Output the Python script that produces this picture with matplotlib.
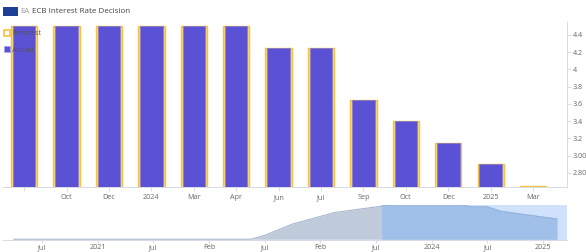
import matplotlib
matplotlib.use("Agg")
import matplotlib.pyplot as plt
from matplotlib.patches import Rectangle
from matplotlib.lines import Line2D
import numpy as np

# ---- data ----
categories = ["", "Oct", "Dec", "2024", "Mar", "Apr", "Jun", "Jul", "Sep", "Oct", "Dec", "2025", "Mar"]
actual = [4.50, 4.50, 4.50, 4.50, 4.50, 4.50, 4.25, 4.25, 3.65, 3.40, 3.15, 2.90, None]
forecast = [4.50, 4.50, 4.50, 4.50, 4.50, 4.50, 4.25, 4.25, 3.65, 3.40, 3.15, 2.90, 2.65]
y_ticks = [2.80, 3.00, 3.2, 3.4, 3.6, 3.8, 4.0, 4.2, 4.4]
y_tick_labels = ["2.80", "3.00", "3.2", "3.4", "3.6", "3.8", "4", "4.2", "4.4"]

# navigator: refinancing rate at each ECB meeting (Apr 2020 .. Mar 2025)
nav_values = [0, 0, 0, 0, 0, 0, 0, 0, 0, 0, 0, 0, 0, 0, 0, 0, 0, 0,
              0.50, 1.25, 2.00, 2.50, 3.00, 3.50, 3.75, 4.00, 4.25,
              4.50, 4.50, 4.50, 4.50, 4.50, 4.50, 4.25, 4.25, 3.65, 3.40, 3.15, 2.90, 2.65]
nav_tick_idx = [2, 6, 10, 14, 18, 22, 26, 30, 34, 38]
nav_tick_labels = ["Jul", "2021", "Jul", "Feb", "Jul", "Feb", "Jul", "2024", "Jul", "2025"]
nav_sel_start = 26.4

W, H = 586, 252
fig = plt.figure(figsize=(W / 100, H / 100), dpi=100)
fig.patch.set_facecolor("white")

def fx(px):
    return px / W

def fy(py):
    return 1 - py / H

BAR = "#5b51d4"
GOLD = "#f5c242"
AXC = "#d0d6e2"
TXT = "#666666"
FONT = "Open Sans"
FS = 5.2

# ---- main chart ----
ax = fig.add_axes([fx(3), fy(187.3), fx(567 - 3), (187.3 - 22) / H])
x = np.arange(len(categories))
ax.bar(x, forecast, width=0.62, color="#fbd775", edgecolor=GOLD, linewidth=1.0, zorder=2)
act_x = [i for i, v in enumerate(actual) if v is not None]
act_v = [v for v in actual if v is not None]
ax.bar(act_x, act_v, width=0.53, color=BAR, edgecolor="#7d75e0", linewidth=0.4, zorder=3)
ax.set_xlim(-0.5, 12.8)
ax.set_ylim(2.632, 4.55)
ax.set_xticks(x)
ax.set_xticklabels(categories, fontsize=FS, color=TXT, family=FONT)
ax.yaxis.tick_right()
ax.set_yticks(y_ticks)
ax.set_yticklabels(y_tick_labels, fontsize=FS, color=TXT, family=FONT)
ax.tick_params(axis="x", length=3, width=0.6, color=AXC, pad=2)
ax.tick_params(axis="y", length=3, width=0.6, color=AXC, pad=1)
for s in ["top", "left"]:
    ax.spines[s].set_visible(False)
ax.spines["bottom"].set_color(AXC)
ax.spines["bottom"].set_linewidth(0.6)
ax.spines["right"].set_color(AXC)
ax.spines["right"].set_linewidth(0.6)
ax.set_facecolor("white")

handles = [
    Line2D([], [], marker="s", linestyle="none", markersize=4.5, markerfacecolor="white",
           markeredgecolor=GOLD, markeredgewidth=1.2),
    Line2D([], [], marker="s", linestyle="none", markersize=4.5, markerfacecolor=BAR,
           markeredgecolor="#a9a4ee", markeredgewidth=0.6),
]
leg = fig.legend(handles, ["Forecast", "Actual"], loc="upper left",
                 bbox_to_anchor=(fx(5), fy(30)), frameon=False,
                 handlelength=0.6, handletextpad=0.35, labelspacing=1.3,
                 borderaxespad=0, borderpad=0, prop={"family": FONT, "size": FS})
for t in leg.get_texts():
    t.set_color("#555555")

# ---- title ----
flag = Rectangle((fx(3), fy(16)), fx(15), 9 / H, transform=fig.transFigure,
                 facecolor="#1f3f96", edgecolor="none")
fig.patches.append(flag)
fig.text(fx(20), fy(11.5), "EA", fontsize=5.6, color="#9a9a9a", va="center", family=FONT)
fig.text(fx(32), fy(11.5), "ECB Interest Rate Decision", fontsize=5.8, color="#444444",
         va="center", family=FONT)

# ---- navigator ----
nav = fig.add_axes([fx(3), fy(240), fx(567 - 3), 35 / H])
xi = np.arange(len(nav_values))
nv = np.array(nav_values, dtype=float)
xmax = 39.72
nav.set_xlim(-0.79, xmax)
nav.set_ylim(-0.1, 4.5)
nav.axvspan(nav_sel_start, xmax, color="#cfe1fb", zorder=0, lw=0)
sel = xi >= nav_sel_start
nav.fill_between(xi, 0, nv, color="#bfcadb", lw=0, zorder=1)
nav.plot(xi, nv, color="#a9b7cc", lw=0.8, zorder=2)
xs = np.concatenate([[nav_sel_start], xi[sel]])
ys = np.concatenate([[np.interp(nav_sel_start, xi, nv)], nv[sel]])
nav.fill_between(xs, 0, ys, color="#a0c0e9", lw=0, zorder=3)
nav.plot(xs, ys, color="#93b4e2", lw=0.8, zorder=4)
nav.set_yticks([])
nav.set_xticks(nav_tick_idx)
nav.set_xticklabels(nav_tick_labels, fontsize=FS, color=TXT, family=FONT)
nav.tick_params(axis="x", length=2, width=0.6, color=AXC, pad=1)
for s in ["top", "left", "right"]:
    nav.spines[s].set_visible(False)
nav.spines["bottom"].set_color(AXC)
nav.spines["bottom"].set_linewidth(0.6)

fig.savefig("out.png", dpi=100, facecolor="white")
